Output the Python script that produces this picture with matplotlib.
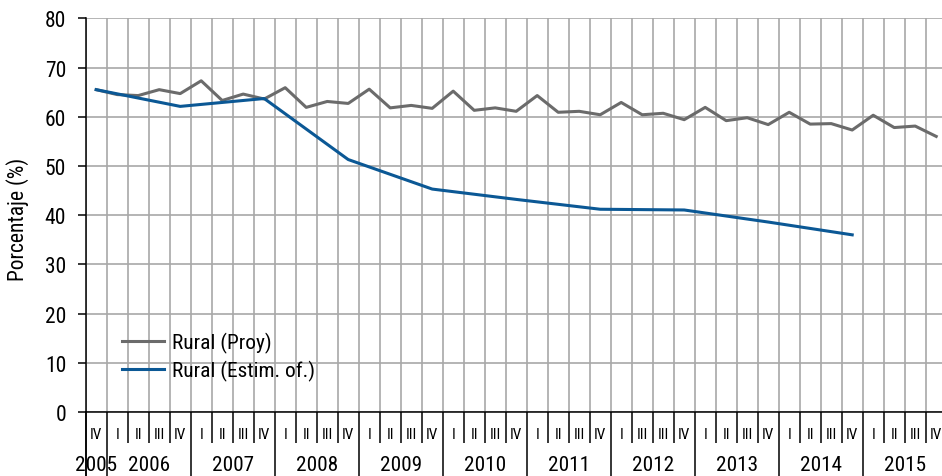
import numpy as np
import matplotlib
matplotlib.use('Agg')
import matplotlib.pyplot as plt
import matplotlib.transforms as mtransforms

plt.rcParams['font.family'] = ['Roboto Condensed', 'Archivo Narrow', 'Liberation Sans', 'DejaVu Sans']

# data: quarters from 2005 IV to 2015 IV
years   = ['2005', '2006', '2007', '2008', '2009', '2010', '2011', '2012', '2013', '2014', '2015']
q_count = [1, 4, 4, 4, 4, 4, 4, 4, 4, 4, 4]
q_labels = (['IV']
            + ['I', 'II', 'III', 'IV'] * 6
            + ['I', 'III', 'III', 'IV']          # as printed in the original
            + ['I', 'II', 'III', 'IV'] * 3)

rural_proy = [65.5, 64.5, 64.3, 65.5, 64.7,
              67.3, 63.3, 64.6, 63.6,
              65.9, 61.9, 63.1, 62.7,
              65.6, 61.8, 62.3, 61.7,
              65.2, 61.3, 61.8, 61.1,
              64.3, 60.9, 61.1, 60.4,
              62.9, 60.4, 60.7, 59.4,
              61.9, 59.2, 59.8, 58.4,
              60.9, 58.5, 58.6, 57.3,
              60.3, 57.8, 58.1, 56.0]

# official estimate, one value per year (IV quarter)
estim_idx = [0, 4, 8, 12, 16, 20, 24, 28, 32, 36]
rural_estim = [65.5, 62.1, 63.7, 51.3, 45.3, 43.2, 41.2, 41.05, 38.6, 36.0]

x = np.arange(len(rural_proy))

fig = plt.figure(figsize=(9.42, 4.77), dpi=100)
ax = fig.add_axes([85.7 / 942, 64 / 477, 861 / 942, 393.7 / 477])

ax.plot(x, rural_proy, '-', color='#6b6b6b', lw=2.2, label='Rural (Proy)', zorder=3)
ax.plot(estim_idx, rural_estim, '-', color='#0b5895', lw=2.2, label='Rural (Estim. of.)', zorder=4)

ax.set_xlim(-0.5, len(x) - 0.5)
ax.set_ylim(0, 80)
ax.set_yticks(np.arange(0, 81, 10))

# year boundaries (long ticks) and quarter boundaries (short ticks)
bounds = np.cumsum([0] + q_count) - 0.5
all_bounds = np.arange(-0.5, len(x), 1.0)
minor_b = [b for b in all_bounds if b not in bounds]
ax.set_xticks(bounds)
ax.set_xticks(minor_b, minor=True)
ax.set_xticklabels([])
ax.tick_params(axis='x', which='major', length=47, width=1.1, color='black', direction='out')
ax.tick_params(axis='x', which='minor', length=22.5, width=1.1, color='black', direction='out')
ax.tick_params(axis='y', length=5.5, width=1.1, pad=8.5, labelsize=15.5, color='black')

ax.grid(True, which='both', color='#a8a8a8', lw=1.2)
ax.set_axisbelow(True)

for s in ['top', 'right']:
    ax.spines[s].set_visible(False)
ax.spines['left'].set_linewidth(1.1)
ax.spines['bottom'].set_linewidth(1.1)
ax.spines['left'].set_bounds(0, 80)

# extend left axis line down through the year row
trans = mtransforms.blended_transform_factory(ax.transData, ax.transAxes)
ax.plot([-0.5, -0.5], [0, -64 / 393.7], color='black', lw=1.1, transform=trans, clip_on=False)

for i, q in enumerate(q_labels):
    ax.text(i, -22 / 393.7, q, transform=trans, ha='center', va='center', fontsize=11)

start = 0
for y, n in zip(years, q_count):
    ax.text(start + (n - 1) / 2, -53 / 393.7, y, transform=trans, ha='center', va='center', fontsize=15.3)
    start += n

fig.text(18 / 942, 1 - 219 / 477, 'Porcentaje (%)', rotation=90, ha='center', va='center', fontsize=15.5)

ax.legend(loc='upper left', bbox_to_anchor=(36 / 861, (413 - 333) / 393.7), frameon=False,
          fontsize=15.4, handlelength=2.0, handletextpad=0.33, labelspacing=0.31, borderaxespad=0,
          borderpad=0)

fig.savefig('out.png', dpi=100)
